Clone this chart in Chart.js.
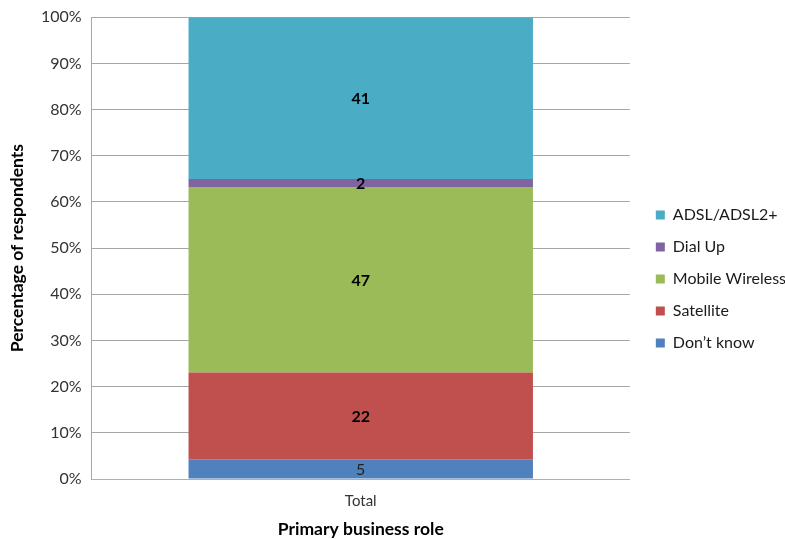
<!DOCTYPE html>
<html>
<head>
<meta charset="utf-8">
<script src="https://cdn.jsdelivr.net/npm/chart.js@4"></script>
<style>
  html, body { margin: 0; padding: 0; background: #fff; }
  #wrap { width: 785px; height: 539px; }
</style>
</head>
<body>
<div id="wrap"><canvas id="connChart" width="785" height="539"></canvas></div>
<script>
// Respondent counts per connection type (stacked to 100%)
const categories = ['Total'];
const seriesNames = ["Don\u2019t know", 'Satellite', 'Mobile Wireless', 'Dial Up', 'ADSL/ADSL2+'];
const seriesCounts = [5, 22, 47, 2, 41];
const seriesColors = ['#4F81BD', '#C0504D', '#9BBB59', '#8064A2', '#4BACC6'];
const labelBold = [false, true, true, true, true];
const yTicks = [0, 10, 20, 30, 40, 50, 60, 70, 80, 90, 100];

const totalCount = seriesCounts.reduce((a, b) => a + b, 0);

const FONT = 'Lato, "Open Sans", sans-serif';

// --- Count labels in the middle of each segment ---
const segmentLabels = {
    id: 'segmentLabels',
    afterDatasetsDraw(chart) {
        const ctx = chart.ctx;
        ctx.save();
        ctx.textAlign = 'center';
        ctx.textBaseline = 'middle';
        chart.data.datasets.forEach((ds, i) => {
            const meta = chart.getDatasetMeta(i);
            meta.data.forEach(bar => {
                const y = (bar.y + bar.base) / 2;
                ctx.font = (labelBold[i] ? 'bold ' : '') + '16px ' + FONT;
                ctx.fillStyle = labelBold[i] ? '#000' : '#222';
                ctx.fillText(String(seriesCounts[i]), bar.x, y + 1);
            });
        });
        ctx.restore();
    }
};

// --- push the legend a bit further right, away from the plot ---
const legendShift = {
    id: 'legendShift',
    afterLayout(chart) {
        const lg = chart.legend;
        if (lg) {
            lg.left += 10;
            lg.right += 10;
        }
    }
};

const datasets = seriesNames.map((name, i) => ({
    label: name,
    data: [seriesCounts[i] / totalCount * 100],
    backgroundColor: seriesColors[i],
    borderWidth: 0,
    barPercentage: 0.64,
    categoryPercentage: 1.0
}));

new Chart(document.getElementById('connChart'), {
    type: 'bar',
    data: { labels: categories, datasets: datasets },
    plugins: [segmentLabels, legendShift],
    options: {
        responsive: false,
        animation: false,
        layout: { padding: { top: 4, right: -1, bottom: -1, left: 7 } },
        plugins: {
            tooltip: { enabled: false },
            legend: {
                position: 'right',
                reverse: true,
                title: { display: true, text: '', padding: 1, font: { size: 10 } },
                labels: {
                    boxWidth: 9,
                    boxHeight: 9,
                    padding: 16,
                    color: '#1a1a1a',
                    font: { family: FONT, size: 16 }
                }
            }
        },
        scales: {
            x: {
                stacked: true,
                grid: { display: false },
                border: { color: '#b0b0b0', width: 1 },
                ticks: { color: '#333', font: { family: FONT, size: 15 }, padding: 5 },
                title: {
                    display: true,
                    text: 'Primary business role',
                    color: '#000',
                    font: { family: FONT, size: 17.5, weight: 'bold' },
                    padding: { top: 4, bottom: 0 }
                }
            },
            y: {
                stacked: true,
                min: 0,
                max: 100,
                afterBuildTicks(scale) {
                    scale.ticks = yTicks.map(v => ({ value: v }));
                },
                grid: { color: '#a6a6a6', drawTicks: false },
                border: { color: '#a6a6a6', width: 1 },
                ticks: {
                    color: '#333',
                    padding: 10,
                    font: { family: FONT, size: 16, lineHeight: 0.9 },
                    callback: v => v + '%'
                },
                title: {
                    display: true,
                    text: 'Percentage of respondents',
                    color: '#000',
                    font: { family: FONT, size: 17.5, weight: 'bold' },
                    padding: { top: 0, bottom: 3 }
                }
            }
        }
    }
});
</script>
</body>
</html>
